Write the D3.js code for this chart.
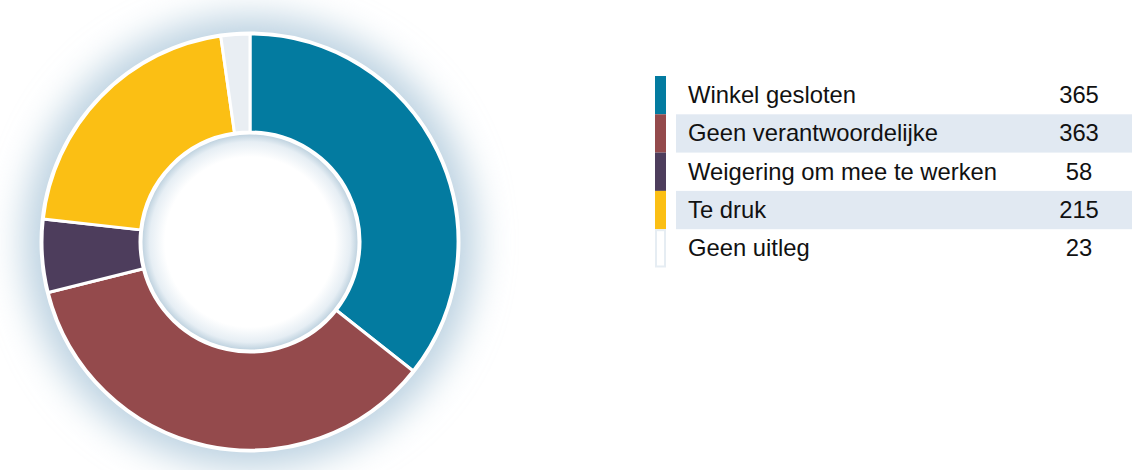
<!DOCTYPE html>
<html>
<head>
<meta charset="utf-8">
<script src="https://cdn.jsdelivr.net/npm/d3@7"></script>
<style>
  body { margin: 0; background: #fff; }
  svg { display: block; font-family: "Liberation Sans", Arial, sans-serif; }
</style>
</head>
<body>
<svg width="1132" height="470"></svg>
<script>
var categories = ["Winkel gesloten", "Geen verantwoordelijke", "Weigering om mee te werken", "Te druk", "Geen uitleg"];
var values = [365, 363, 58, 215, 23];
var colors = ["#037ba0", "#944a4c", "#4d3d5c", "#fbbf14", "#e9eef3"];

var svg = d3.select("svg");
var cx = 250, cy = 242, outerR = 208, innerR = 110;

var defs = svg.append("defs");
defs.append("filter").attr("id", "glow")
  .attr("x", "-40%").attr("y", "-40%").attr("width", "180%").attr("height", "180%")
  .append("feGaussianBlur").attr("stdDeviation", 18);

var inner = defs.append("radialGradient").attr("id", "innerShade");
inner.append("stop").attr("offset", "0.78").attr("stop-color", "#ffffff");
inner.append("stop").attr("offset", "0.92").attr("stop-color", "#e6eef4");
inner.append("stop").attr("offset", "1").attr("stop-color", "#b9cedc");

var g = svg.append("g").attr("transform", "translate(" + cx + "," + cy + ")");

g.append("circle")
  .attr("r", outerR + 18)
  .attr("fill", "#bcd2e1")
  .attr("filter", "url(#glow)");

var data = categories.map(function(c, i) { return {name: c, value: values[i], color: colors[i]}; });

var pie = d3.pie().sort(null).value(function(d) { return d.value; });
var arc = d3.arc().innerRadius(innerR).outerRadius(outerR);

g.selectAll("path.slice")
  .data(pie(data))
  .enter()
  .append("path")
    .attr("class", "slice")
    .attr("d", arc)
    .attr("fill", function(d) { return d.data.color; })
    .attr("stroke", "#fff")
    .attr("stroke-width", 3)
    .attr("stroke-linejoin", "round");

g.append("circle")
  .attr("r", outerR + 1)
  .attr("fill", "none")
  .attr("stroke", "#fff")
  .attr("stroke-width", 3);

g.append("circle")
  .attr("r", innerR - 1)
  .attr("fill", "url(#innerShade)")
  .attr("stroke", "#fff")
  .attr("stroke-width", 3);

// legend table
var legendTop = 76, rowH = 38.3;
var y = d3.scaleBand()
  .domain(categories)
  .range([legendTop, legendTop + rowH * categories.length]);

var rows = svg.selectAll("g.row")
  .data(data)
  .enter()
  .append("g")
    .attr("class", "row")
    .attr("transform", function(d) { return "translate(0," + y(d.name) + ")"; });

rows.filter(function(d, i) { return i % 2 === 1; })
  .append("rect")
    .attr("x", 676)
    .attr("width", 456)
    .attr("height", y.bandwidth())
    .attr("fill", "#e1e9f2");

var last = data.length - 1;
rows.append("rect")
  .attr("x", function(d, i) { return i === last ? 656 : 655; })
  .attr("y", function(d, i) { return i === last ? 1 : 0; })
  .attr("width", function(d, i) { return i === last ? 9 : 11; })
  .attr("height", function(d, i) { return i === last ? y.bandwidth() - 2 : y.bandwidth(); })
  .attr("fill", function(d, i) { return i === last ? "#fff" : d.color; })
  .attr("stroke", function(d, i) { return i === last ? "#e6edf3" : "none"; })
  .attr("stroke-width", 2);

rows.append("text")
  .attr("x", 688)
  .attr("y", y.bandwidth() / 2 + 8)
  .attr("font-size", 23.8)
  .attr("fill", "#111")
  .text(function(d) { return d.name; });

rows.append("text")
  .attr("x", 1079)
  .attr("y", y.bandwidth() / 2 + 8)
  .attr("font-size", 23.8)
  .attr("fill", "#111")
  .attr("text-anchor", "middle")
  .text(function(d) { return d.value; });
</script>
</body>
</html>
